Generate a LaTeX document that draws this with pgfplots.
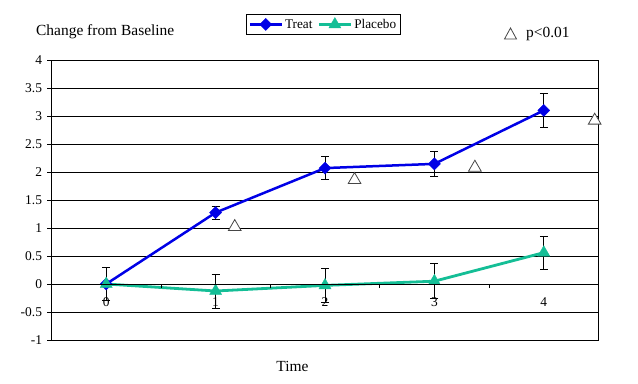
\documentclass[border=0pt]{standalone}
\usepackage{fontspec}
\setmainfont{Liberation Serif}
\usepackage{pgfplots}
\pgfplotsset{compat=1.18}
\definecolor{treat}{RGB}{0,0,230}
\definecolor{plac}{RGB}{20,190,150}
\definecolor{pgray}{RGB}{70,70,70}
\begin{document}
\begin{tikzpicture}
\path[use as bounding box] (-51.5bp,-44bp) rectangle (586.5bp,340bp);
\begin{axis}[
  name=main,
  scale only axis, width=547bp, height=280bp,
  xmin=-0.5, xmax=4.5, ymin=-1, ymax=4,
  xtick=\empty,
  ytick={-1,-0.5,0,0.5,1,1.5,2,2.5,3,3.5,4},
  yticklabels={-1,-0.5,0,0.5,1,1.5,2,2.5,3,3.5,4},
  ytick pos=left,
  /pgf/number format/assume math mode=true,
  ymajorgrids, grid style={black, line width=0.8bp},
  axis line style={black, line width=0.8bp},
  tick align=outside, major tick length=4bp,
  ytick style={black, line width=0.8bp},
  yticklabel style={font=\fontsize{13.5}{14}\selectfont, xshift=-2bp},
  clip=false,
  legend style={at={(0.497,1.127)}, anchor=center, draw=black, line width=0.8bp,
    font=\fontsize{13.3}{14}\selectfont, inner xsep=2.5bp, inner ysep=3bp,
    /tikz/every even column/.append style={column sep=3bp}},
  legend columns=2,
  legend image code/.code={\draw[mark repeat=2, mark phase=2] plot coordinates {(0bp,0bp) (16bp,0bp) (32bp,0bp)};},
]
\addplot[treat, line width=2.5bp, mark=square*, mark size=4.3bp,
  mark options={solid, rotate=45, fill=treat, draw=treat, line width=0.3bp},
  error bars/.cd, y dir=both, y explicit,
  error bar style={black, line width=0.8bp},
  error mark options={black, rotate=90, mark size=4bp, line width=0.8bp}]
  coordinates {(0,0) +- (0,0) (1,1.275) +- (0,0.115) (2,2.07) +- (0,0.21) (3,2.145) +- (0,0.215) (4,3.10) +- (0,0.30)};
\addlegendentry{Treat}
\addplot[plac, line width=2.8bp, mark=triangle*, mark size=7bp,
  mark options={solid, fill=plac, draw=plac, line width=0.3bp},
  error bars/.cd, y dir=both, y explicit,
  error bar style={black, line width=0.8bp},
  error mark options={black, rotate=90, mark size=4bp, line width=0.8bp}]
  coordinates {(0,0) +- (0,0.30) (1,-0.125) +- (0,0.305) (2,-0.025) +- (0,0.305) (3,0.05) +- (0,0.31) (4,0.56) +- (0,0.295)};
\addlegendentry{Placebo}
\addplot[only marks, mark=triangle*, mark size=7.3bp,
  mark options={fill=white, draw=pgray, line width=0.8bp}, forget plot]
  coordinates {(1.175,1.02) (2.27,1.86) (3.37,2.08) (4.465,2.92)};
\end{axis}
\begin{axis}[
  scale only axis, width=547bp, height=280bp,
  xmin=-0.5, xmax=4.5, ymin=-1, ymax=4,
  axis x line=middle, axis y line=none,
  /pgf/number format/assume math mode=true,
  x axis line style={-, black, line width=0.8bp},
  xtick={0.5,1.5,2.5,3.5}, xticklabels={},
  extra x ticks={0,1,2,3,4},
  extra x tick labels={0,1,2,3,4},
  extra x tick style={major tick length=0pt},
  xticklabel style={font=\fontsize{13.5}{14}\selectfont, yshift=-10bp},
  tick align=outside, major tick length=4bp,
  xtick style={black, line width=0.8bp},
]
\end{axis}
\node[anchor=base west, font=\fontsize{15.5}{16}\selectfont, inner sep=0pt] at (-15.5bp,304.3bp) {Change from Baseline};
\node[anchor=base, font=\fontsize{15.5}{16}\selectfont, inner sep=0pt] at (241bp,-31bp) {Time};
\node[anchor=base west, font=\fontsize{15.5}{16}\selectfont, inner sep=0pt] at (474.5bp,302bp) {p<0.01};
\draw[pgray, line width=0.8bp, fill=white] (453bp,301bp) -- (465bp,301bp) -- (459bp,312bp) -- cycle;
\end{tikzpicture}
\end{document}
